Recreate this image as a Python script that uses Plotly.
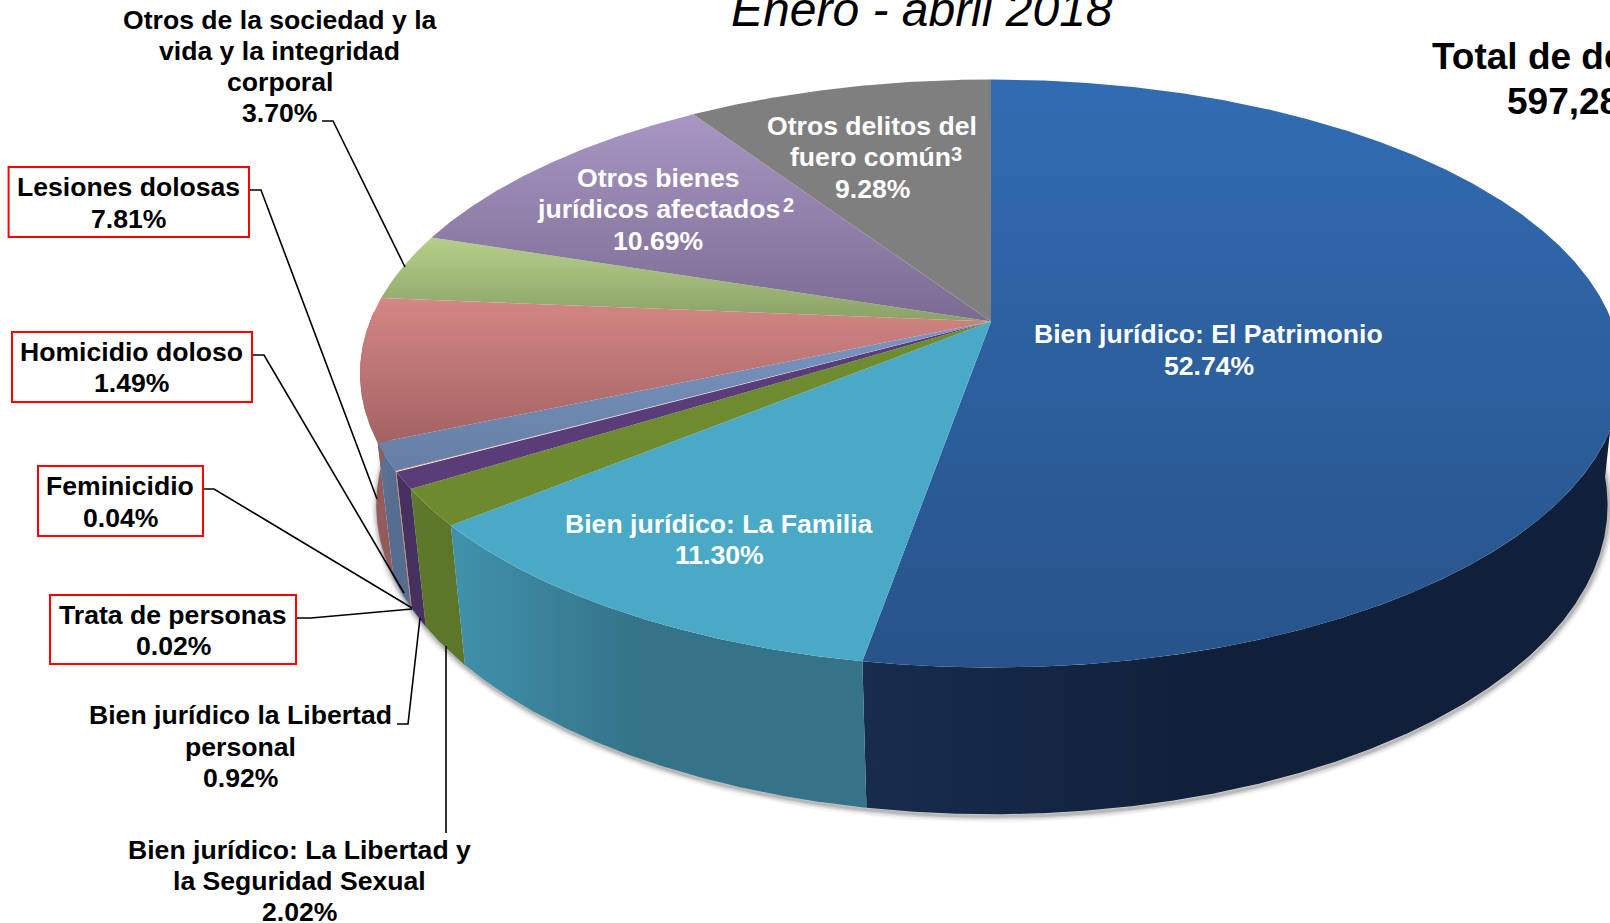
import numpy as np
import plotly.graph_objects as go

# ---- data (clockwise from 12 o'clock) ----
categories = ["Bien jurídico: El Patrimonio", "Bien jurídico: La Familia",
              "Bien jurídico: La Libertad y la Seguridad Sexual",
              "Bien jurídico la Libertad personal", "Trata de personas", "Feminicidio",
              "Homicidio doloso", "Lesiones dolosas",
              "Otros de la sociedad y la vida y la integridad corporal",
              "Otros bienes jurídicos afectados", "Otros delitos del fuero común"]
values = [52.74, 11.30, 2.02, 0.92, 0.02, 0.04, 1.49, 7.81, 3.70, 10.69, 9.28]
top_colors = [("#316CB2", "#27538A"), ("#4AA9C6", "#4AA9C6"), ("#6E8C30", "#6E8A2E"),
              ("#5A3C78", "#5A3C78"), ("#C06A20", "#C06A20"), ("#C06A20", "#C06A20"),
              ("#7A96C2", "#667EA4"), ("#D48785", "#A36363"), ("#B5D08A", "#8AA266"),
              ("#A996C4", "#7B6B92"), ("#7F7F7F", "#7F7F7F")]
side_colors = [("#172C4E", "#10203A"), ("#4092AC", "#347388"), ("#5F7A2C", "#5C762A"),
               ("#46305F", "#46305F"), ("#B8661E", "#B8661E"), ("#B8661E", "#B8661E"),
               ("#5C7499", "#566D90"), ("#A06565", "#935C5C"), ("#8AA266", "#8AA266"),
               ("#7B6B92", "#7B6B92"), ("#666666", "#666666")]
title_text = "Enero - abril 2018"
total_lines = ["Total de delitos", "597,28"]

# ---- page layout of the drawing ----
W, H = 1610, 923
CX, CY, RX, RY = 991.0, 373.5, 631.0, 294.0
D = 0.177
BOLD = "Liberation Sans"
TEXT = 26.6
LEAD = 31.3


def top_xy(theta):
    a = np.radians(theta)
    px, py = np.sin(a), -np.cos(a)
    den = 1 - D * py
    u = px * np.sqrt(1 - D * D) / den
    v = (py - D) / den
    return CX + RX * u, CY + RY * v


def bottom_xy(x, y):
    return x + (1029 - x) * 0.0243, y + 139.5 + 0.0515 * (y - 526)


fig = go.Figure()

# soft shadow under the lower rim
tt = np.linspace(92, 272, 400)
sx, sy = bottom_xy(*top_xy(tt))
for w, alpha in [(13, 0.05), (9, 0.08), (6, 0.11), (3, 0.18)]:
    fig.add_trace(go.Scatter(x=sx + 1, y=sy + 2, mode="lines", hoverinfo="skip",
                             line=dict(color=f"rgba(60,60,60,{alpha})", width=w)))

edges = np.concatenate([[0], np.cumsum(values)]) * 360 / sum(values)
order = list(range(len(values)))

# outer walls
for i in order:
    t0, t1 = max(edges[i], 95), min(edges[i + 1], 272)
    if t1 <= t0:
        continue
    t = np.linspace(t0, t1, max(4, int((t1 - t0) * 4)))
    x, y = top_xy(t)
    bx, by = bottom_xy(x, y)
    c = side_colors[i]
    fig.add_trace(go.Scatter(
        x=np.concatenate([x, bx[::-1]]), y=np.concatenate([y, by[::-1]]),
        mode="lines", fill="toself", hoverinfo="skip", line=dict(width=0),
        fillcolor=c[0],
        fillgradient=dict(type="horizontal", colorscale=[[0, c[0]], [0.45, c[1]], [1, c[1]]]),
    ))

# top faces
for i in order:
    t = np.linspace(edges[i], edges[i + 1], max(3, int((edges[i + 1] - edges[i]) * 4)))
    x, y = top_xy(t)
    ay = CY + RY * (-D)
    c = top_colors[i]
    # on the reversed y axis colour position 0 is the lower edge of the slice
    fig.add_trace(go.Scatter(
        x=np.concatenate([[CX], x, [CX]]), y=np.concatenate([[ay], y, [ay]]),
        mode="lines", fill="toself", hoverinfo="skip", line=dict(width=0),
        fillcolor=c[0],
        fillgradient=dict(type="vertical", colorscale=[[0, c[1]], [1, c[0]]]),
    ))

# leader lines
leaders = [
    ([322, 333, 405], [121, 121, 267]),
    ([249, 261, 377], [190, 190, 499]),
    ([252, 264, 404], [355, 355, 593]),
    ([203, 214, 412], [489, 489, 608]),
    ([296, 311, 412], [618, 618, 609]),
    ([397, 408, 420], [724, 724, 618]),
    ([446, 446], [833, 646]),
]
for lx, ly in leaders:
    fig.add_trace(go.Scatter(x=lx, y=ly, mode="lines", hoverinfo="skip",
                             line=dict(color="#000000", width=1.6)))

annotations = []


def add_block(lines, cx, cy, color="#000000", size=TEXT, lead=LEAD, bold=True, italic=False, anchor="center"):
    n = len(lines)
    for k, s in enumerate(lines):
        txt = f"<b>{s}</b>" if bold else s
        if italic:
            txt = f"<i>{txt}</i>"
        annotations.append(dict(x=cx, y=cy + (k - (n - 1) / 2) * lead, xref="x", yref="y", text=txt,
                                showarrow=False, xanchor=anchor, yanchor="middle", align=anchor,
                                font=dict(family=BOLD, size=size, color=color)))


add_block(["Otros de la sociedad y la", "vida y la integridad", "corporal", "3.70%"], 279.5, 66.5)
add_block(["Lesiones dolosas", "7.81%"], 128.5, 203)
add_block(["Homicidio doloso", "1.49%"], 131.5, 367.5)
add_block(["Feminicidio", "0.04%"], 120, 502)
add_block(["Trata de personas", "0.02%"], 173, 630.5)
add_block(["Bien jurídico la Libertad", "personal", "0.92%"], 240, 746.5)
add_block(["Bien jurídico: La Libertad y", "la Seguridad Sexual", "2.02%"], 299, 881)
add_block(["Otros delitos del"], 872, 126, "#FFFFFF")
add_block(["fuero común"], 870, 157, "#FFFFFF")
add_block(["3"], 956, 154, "#FFFFFF", size=20)
add_block(["9.28%"], 872, 188.5, "#FFFFFF")
add_block(["Otros bienes"], 658, 178, "#FFFFFF")
add_block(["jurídicos afectados"], 658, 209, "#FFFFFF")
add_block(["2"], 788, 204.5, "#FFFFFF", size=20)
add_block(["10.69%"], 658, 240.5, "#FFFFFF")
add_block(["Bien jurídico: La Familia", "11.30%"], 719, 539.5, "#FFFFFF")
add_block(["Bien jurídico: El Patrimonio", "52.74%"], 1208.5, 350, "#FFFFFF")
add_block([title_text], 921.5, 9.5, size=48, bold=False, italic=True)
add_block([total_lines[0]], 1430, 56, size=37, anchor="left")
add_block([total_lines[1]], 1505, 101, size=37, anchor="left")

boxes = [(8.6, 167, 249, 237), (12, 332, 252, 402), (38, 466, 203, 536), (50, 595, 296, 664)]
shapes = [dict(type="rect", x0=a, y0=b, x1=c, y1=d, xref="x", yref="y",
               line=dict(color="#FF0000", width=2), fillcolor="rgba(0,0,0,0)") for a, b, c, d in boxes]

fig.update_layout(
    width=W, height=H, autosize=False, showlegend=False,
    margin=dict(l=0, r=0, t=0, b=0),
    paper_bgcolor="#FFFFFF", plot_bgcolor="#FFFFFF",
    xaxis=dict(range=[0, W], visible=False, fixedrange=True),
    yaxis=dict(range=[H, 0], visible=False, fixedrange=True),
    annotations=annotations, shapes=shapes,
)
fig.write_html("out.html", config={"displayModeBar": False},
               post_script="document.body.style.margin='0';document.body.style.overflow='hidden';")
